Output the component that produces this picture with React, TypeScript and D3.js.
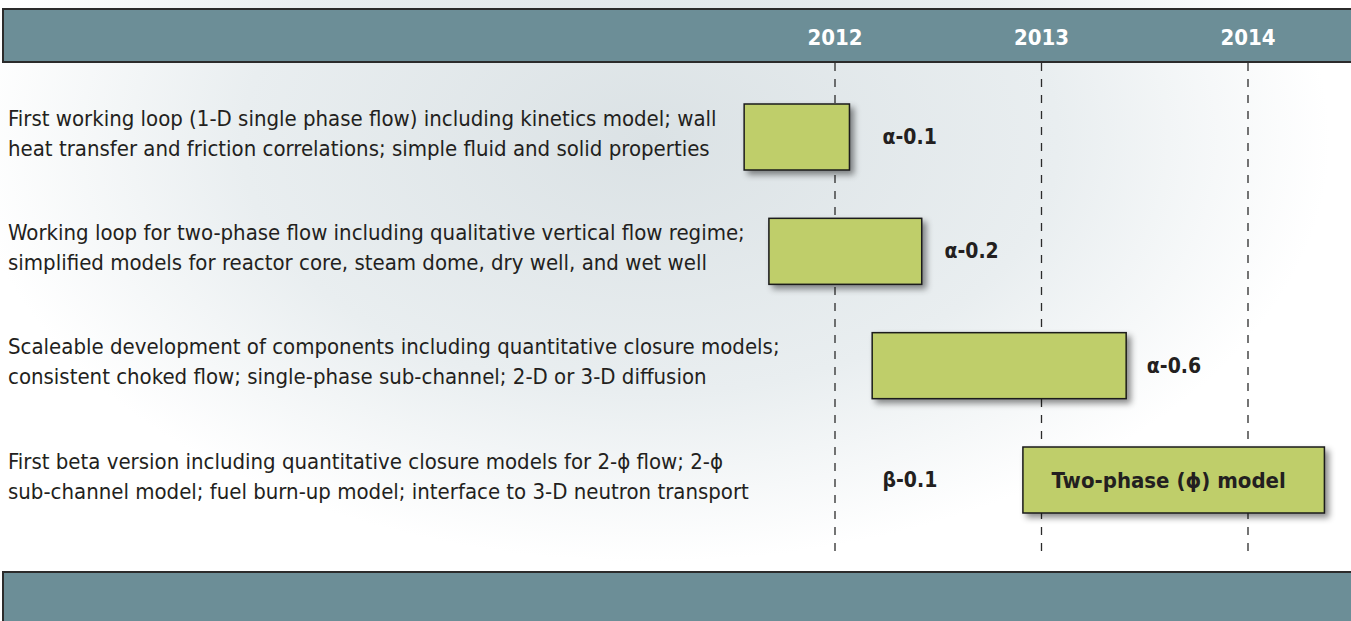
import React, { useEffect } from "react";
import * as d3 from "d3";

// timeline years shown in the header
const years = [2012, 2013, 2014];

// one entry per work package
const rowIds = ["loop1", "loop2", "scale", "beta"];
const descriptions = [
  [
    "First working loop (1-D single phase flow) including kinetics model; wall",
    "heat transfer and friction correlations; simple fluid and solid properties",
  ],
  [
    "Working loop for two-phase flow including qualitative vertical flow regime;",
    "simplified models for reactor core, steam dome, dry well, and wet well",
  ],
  [
    "Scaleable development of components including quantitative closure models;",
    "consistent choked flow; single-phase sub-channel; 2-D or 3-D diffusion",
  ],
  [
    "First beta version including quantitative closure models for 2-\u03d5 flow; 2-\u03d5",
    "sub-channel model; fuel burn-up model; interface to 3-D neutron transport",
  ],
];
const versions = ["\u03b1-0.1", "\u03b1-0.2", "\u03b1-0.6", "\u03b2-0.1"];
const barStart = [2011.56, 2011.68, 2012.18, 2012.91];
const barEnd = [2012.07, 2012.42, 2013.41, 2014.37];
const labelAt = [2012.23, 2012.53, 2013.51, 2012.23];
const barText = ["", "", "", "Two-phase (\u03d5) model"];

const W = 1351;
const H = 621;
const font = "'DejaVu Sans Condensed', 'DejaVu Sans', sans-serif";

export default function App() {
  useEffect(() => {
    document.body.style.margin = "0";
  }, []);

  const x = d3.scaleLinear().domain([2012, 2014]).range([835, 1248]);
  const y = d3.scalePoint<string>().domain(rowIds).range([137, 480]);
  const barH = 66;
  const lineGap = 30;

  return (
    <svg
      width={W}
      height={H}
      style={{ display: "block", position: "absolute", left: 0, top: 0 }}
    >
      <defs>
        <radialGradient
          id="bg"
          gradientUnits="userSpaceOnUse"
          cx={650}
          cy={140}
          r={680}
          gradientTransform="translate(650,140) scale(1,0.62) translate(-650,-140)"
        >
          <stop offset="0" stopColor="#dbe2e5" />
          <stop offset="0.6" stopColor="#e9eef0" />
          <stop offset="1" stopColor="#ffffff" />
        </radialGradient>
        <filter id="shadow" x="-10%" y="-20%" width="130%" height="160%">
          <feDropShadow dx={4} dy={4} stdDeviation={3} floodColor="#000" floodOpacity={0.45} />
        </filter>
      </defs>

      <rect x={0} y={0} width={W} height={H} fill="url(#bg)" />

      {/* header band */}
      <rect x={3} y={9} width={W + 10} height={53} fill="#6c8e97" stroke="#2b2b2b" strokeWidth={2} />
      {years.map((yr) => (
        <text
          key={yr}
          x={x(yr)}
          y={37}
          textAnchor="middle"
          dominantBaseline="central"
          fill="#ffffff"
          fontFamily={font}
          fontStretch="condensed"
          fontWeight="bold"
          fontSize={22}
        >
          {yr}
        </text>
      ))}

      {/* year gridlines */}
      {years.map((yr) => (
        <line
          key={"g" + yr}
          x1={x(yr)}
          x2={x(yr)}
          y1={63}
          y2={558}
          stroke="#2b2b2b"
          strokeWidth={1.3}
          strokeDasharray="8,8"
        />
      ))}

      {/* descriptions */}
      {rowIds.map((id, i) =>
        descriptions[i].map((line, j) => (
          <text
            key={id + j}
            x={8}
            y={(y(id) as number) - 4 + (j - 0.5) * lineGap}
            dominantBaseline="central"
            fill="#231f20"
            fontFamily={font}
            fontStretch="condensed"
            fontSize={22}
          >
            {line}
          </text>
        ))
      )}

      {/* bars */}
      {rowIds.map((id, i) => (
        <g key={"b" + id}>
          <rect
            x={x(barStart[i])}
            y={(y(id) as number) - barH / 2}
            width={x(barEnd[i]) - x(barStart[i])}
            height={barH}
            fill="#bfce6b"
            stroke="#1a1a1a"
            strokeWidth={1.5}
            filter="url(#shadow)"
          />
          {barText[i] && (
            <text
              x={(x(barStart[i]) + x(barEnd[i])) / 2 - 5}
              y={y(id) as number}
              textAnchor="middle"
              dominantBaseline="central"
              fill="#231f20"
              fontFamily={font}
              fontStretch="condensed"
              fontWeight="bold"
              fontSize={22}
            >
              {barText[i]}
            </text>
          )}
          <text
            x={x(labelAt[i])}
            y={y(id) as number}
            dominantBaseline="central"
            fill="#231f20"
            fontFamily={font}
            fontStretch="condensed"
            fontWeight="bold"
            fontSize={21}
          >
            {versions[i]}
          </text>
        </g>
      ))}

      {/* footer band */}
      <rect x={3} y={572} width={W + 10} height={60} fill="#6c8e97" stroke="#2b2b2b" strokeWidth={2} />
    </svg>
  );
}
